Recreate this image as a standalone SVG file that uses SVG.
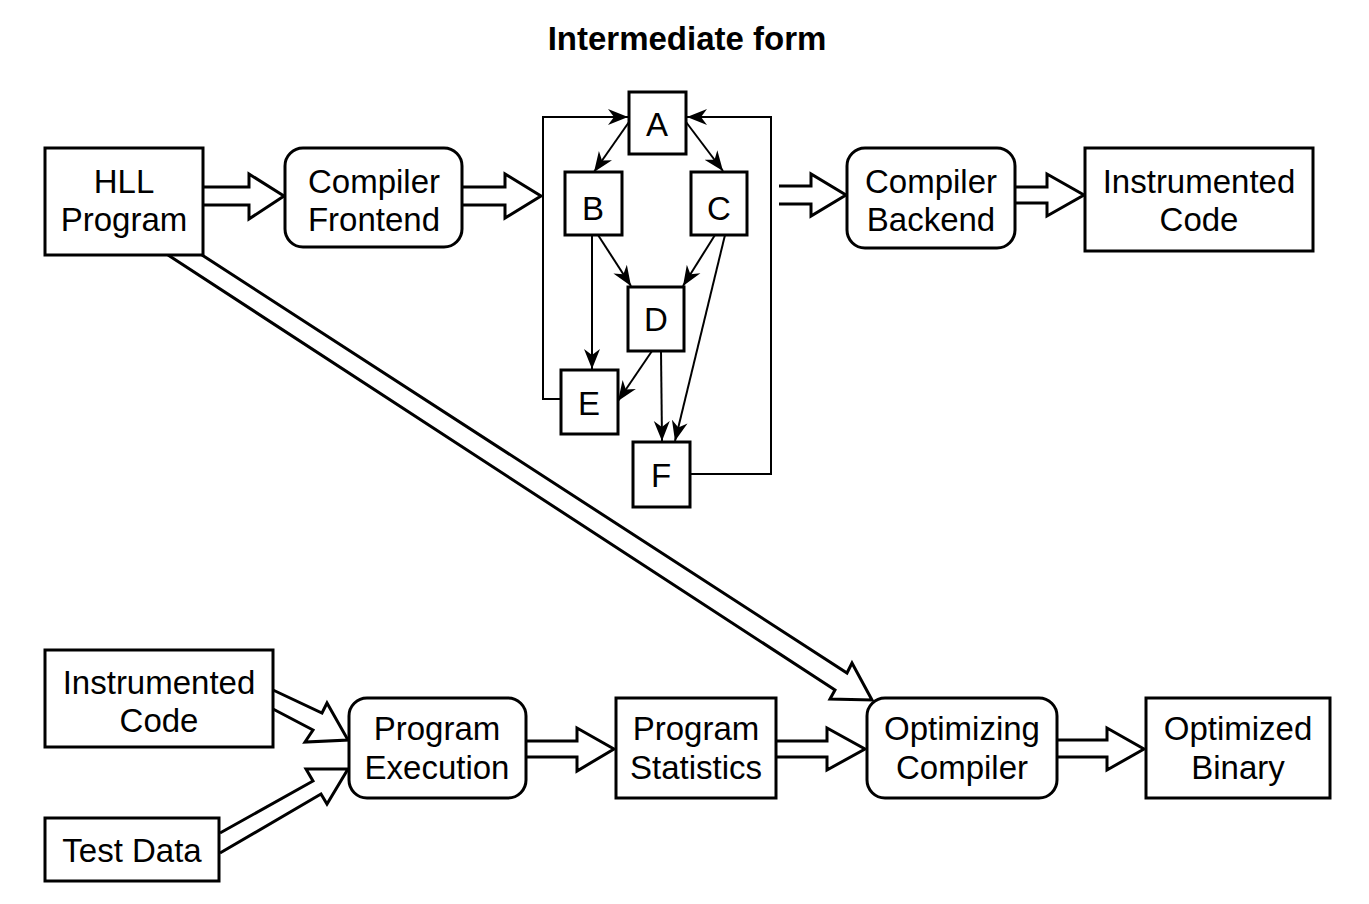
<svg xmlns="http://www.w3.org/2000/svg" width="1369" height="904" viewBox="0 0 1369 904">
<style>
.box{fill:#fff;stroke:#000;stroke-width:3}
.t{font-family:"Liberation Sans",Arial,sans-serif;font-size:33px;fill:#000;text-anchor:middle}
.g{font-family:"Liberation Sans",Arial,sans-serif;font-size:33px;fill:#000;text-anchor:middle}
.ha{fill:#fff;stroke:#000;stroke-width:3;stroke-linejoin:miter}
.e{fill:none;stroke:#000;stroke-width:2;marker-end:url(#ah)}
</style>
<defs>
<marker id="ah" markerWidth="22" markerHeight="18" refX="20" refY="9" orient="auto" markerUnits="userSpaceOnUse"><path d="M0,1 L20,9 L0,17 L6,9 z" fill="#000"/></marker>
</defs>
<rect width="1369" height="904" fill="#fff"/>
<text x="687" y="50" class="t" style="font-weight:bold;font-size:33px">Intermediate form</text>
<g id="connectors">
<polyline class="ha" points="203,187 249,187 249,174 284,196 249,219 249,205 203,205"/>
<polyline class="ha" points="462,187 505,187 505,174 541,196 505,218 505,205 462,205"/>
<polyline class="ha" points="779,186 811,186 811,174 846,195 811,216 811,204 779,204"/>
<polyline class="ha" points="1015,187 1047,187 1047,174 1084,195 1047,216 1047,203 1015,203"/>
<polyline class="ha" points="526,741 577,741 577,728 614,749 577,771 577,757 526,757"/>
<polyline class="ha" points="777,741 827,741 827,728 865,749 827,770 827,757 777,757"/>
<polyline class="ha" points="1057,740 1107,740 1107,728 1144,749 1107,770 1107,757 1057,757"/>
<polyline class="ha" points="202,255 847,673 852,663 872,700 830,699 835,690 168,255"/>
<polyline class="ha" points="273,690 322,713 327,703 348,740 305,742 313,730 273,709"/>
<polyline class="ha" points="220,833 313,781 306,769 348,769 327,804 321,794 220,853"/>
<path class="e" d="M629,122 L594,172"/>
<path class="e" d="M686,122 L723,171"/>
<path class="e" d="M592,235 L592,369"/>
<path class="e" d="M598,235 L631,286"/>
<path class="e" d="M715,235 L683,286"/>
<path class="e" d="M725,235 L675,441"/>
<path class="e" d="M652,351 L618,401"/>
<path class="e" d="M661,351 L662,441"/>
<path class="e" d="M561,399 H543 V117 H628"/>
<path class="e" d="M690,474 H771 V117 H687"/>
</g>
<g id="hll"><rect class="box" x="45" y="148" width="158" height="107"/><text class="t" x="124" y="193">HLL</text><text class="t" x="124" y="231">Program</text></g>
<g id="frontend"><rect class="box" x="285" y="148" width="177" height="99" rx="18"/><text class="t" x="374" y="193">Compiler</text><text class="t" x="374" y="231">Frontend</text></g>
<g id="nA"><rect class="box" x="629" y="92" width="57" height="62"/><text class="g" x="657" y="136">A</text></g>
<g id="nB"><rect class="box" x="565" y="172" width="57" height="63"/><text class="g" x="593" y="220">B</text></g>
<g id="nC"><rect class="box" x="691" y="172" width="56" height="63"/><text class="g" x="719" y="220">C</text></g>
<g id="nD"><rect class="box" x="628" y="287" width="56" height="64"/><text class="g" x="656" y="331">D</text></g>
<g id="nE"><rect class="box" x="561" y="370" width="57" height="64"/><text class="g" x="589" y="415">E</text></g>
<g id="nF"><rect class="box" x="633" y="442" width="57" height="65"/><text class="g" x="661" y="487">F</text></g>
<g id="backend"><rect class="box" x="847" y="148" width="168" height="100" rx="18"/><text class="t" x="931" y="193">Compiler</text><text class="t" x="931" y="231">Backend</text></g>
<g id="instr1"><rect class="box" x="1085" y="148" width="228" height="103"/><text class="t" x="1199" y="193">Instrumented</text><text class="t" x="1199" y="231">Code</text></g>
<g id="instr2"><rect class="box" x="45" y="650" width="228" height="97"/><text class="t" x="159" y="694">Instrumented</text><text class="t" x="159" y="732">Code</text></g>
<g id="testdata"><rect class="box" x="45" y="818" width="174" height="63"/><text class="t" x="132" y="862">Test Data</text></g>
<g id="exec"><rect class="box" x="349" y="698" width="177" height="100" rx="18"/><text class="t" x="437" y="740">Program</text><text class="t" x="437" y="779">Execution</text></g>
<g id="stats"><rect class="box" x="616" y="698" width="160" height="100"/><text class="t" x="696" y="740">Program</text><text class="t" x="696" y="779">Statistics</text></g>
<g id="optc"><rect class="box" x="867" y="698" width="190" height="100" rx="18"/><text class="t" x="962" y="740">Optimizing</text><text class="t" x="962" y="779">Compiler</text></g>
<g id="binary"><rect class="box" x="1146" y="698" width="184" height="100"/><text class="t" x="1238" y="740">Optimized</text><text class="t" x="1238" y="779">Binary</text></g>
</svg>
